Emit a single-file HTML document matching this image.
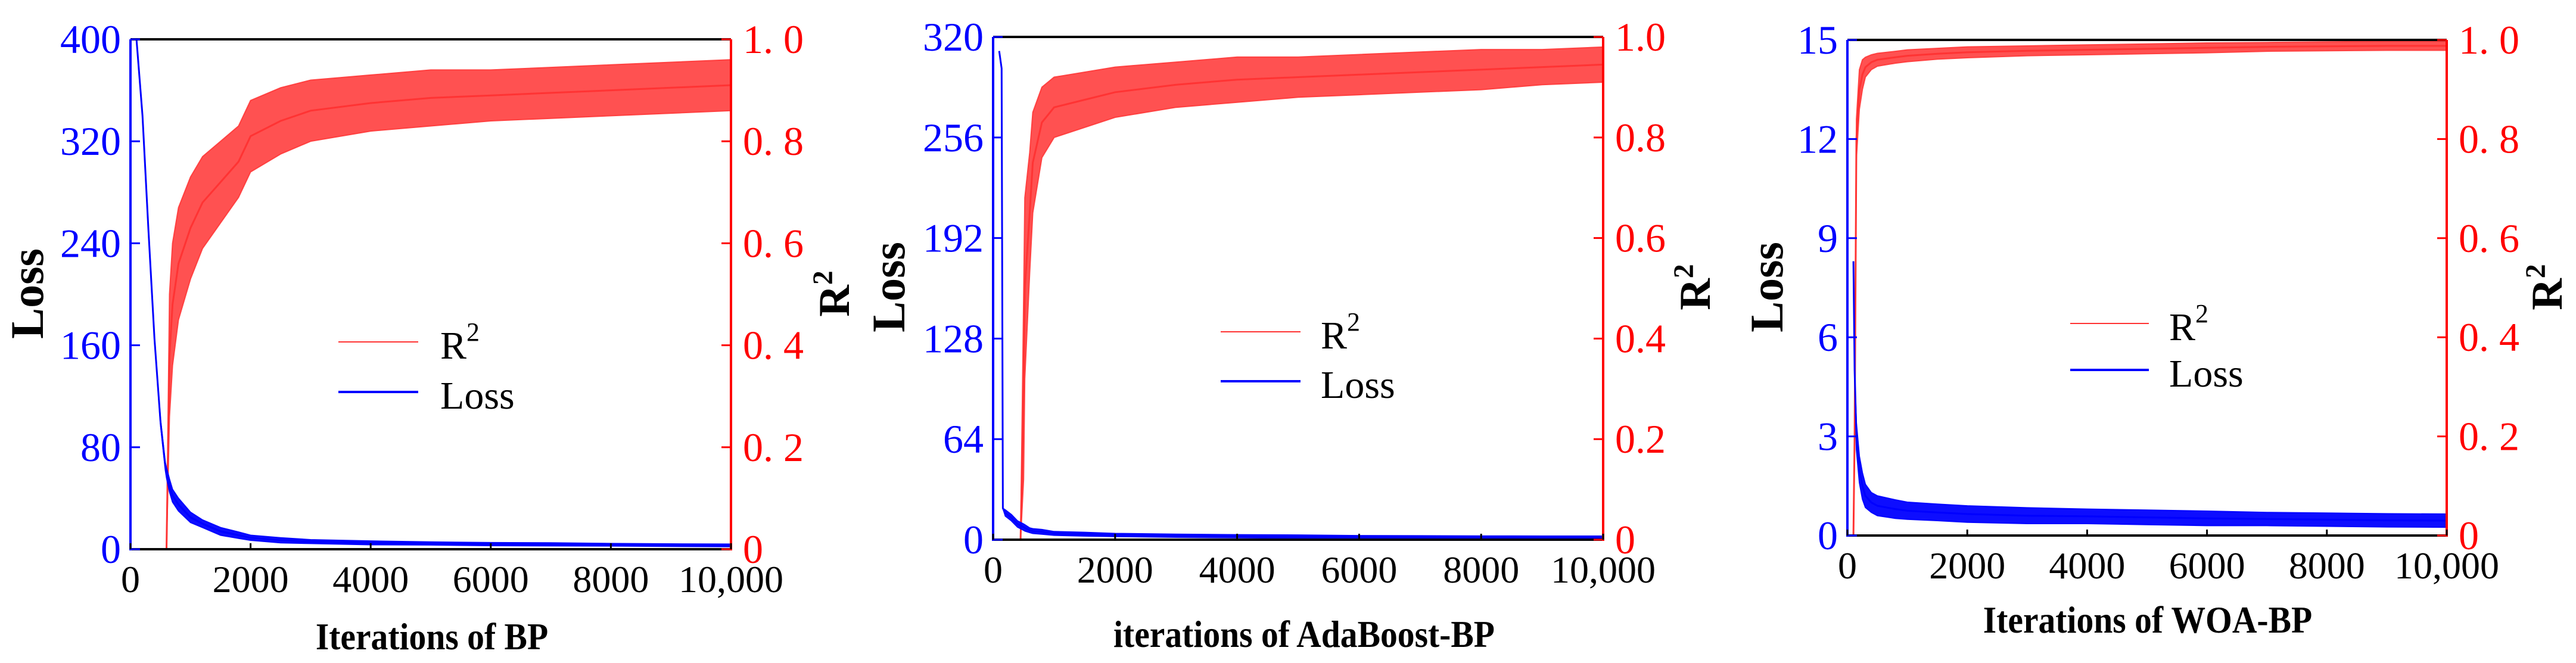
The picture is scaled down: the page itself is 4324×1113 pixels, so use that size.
<!DOCTYPE html>
<html><head><meta charset="utf-8"><style>
html,body{margin:0;padding:0;background:#fff;}
svg{display:block;font-family:"Liberation Serif",serif;}
</style></head><body>
<svg id="chart" width="4324" height="1113" viewBox="0 0 4324 1113" xmlns="http://www.w3.org/2000/svg" font-family="Liberation Serif, serif"></svg>
<script>
// ---- Panel 1: BP ----
const bpIter = [0,100,200,300,400,500,580,600,650,700,800,1000,1200,1500,1800,2000,2500,3000,4000,5000,6000,7000,8000,9000,10000];
const bpLoss = [400,400,340,250,165,100,65,60,50,42,35,25,20,14,11,9,7,6,5,4.5,4,3.8,3.5,3.2,3];
const bpLossSpread = [0,0,0,0,0,2,3,4,5,5,5,4,3,3,2.5,2,2,1.5,1.5,1.2,1.2,1.2,1,1,1];
const bpR2 = [0,0,0,0,0,0,0,0,0.38,0.48,0.56,0.63,0.68,0.72,0.76,0.81,0.84,0.86,0.875,0.885,0.89,0.895,0.9,0.905,0.91];
const bpR2Spread = [0,0,0,0,0,0,0,0,0.12,0.12,0.11,0.1,0.09,0.08,0.07,0.07,0.065,0.06,0.055,0.055,0.05,0.05,0.05,0.05,0.05];
// ---- Panel 2: AdaBoost-BP ----
const adaIter = [0,80,100,140,160,200,300,400,450,500,520,600,650,800,1000,1500,2000,3000,4000,5000,6000,7000,8000,9000,10000];
const adaLoss = [0,0,311,300,20,17,14,10,9,8,7.5,6,5.5,5,4,3.5,3,2.5,2.2,2,1.8,1.7,1.6,1.5,1.5];
const adaLossSpread = [0,0,0,0,0,2,2,2,2,2,2,1.5,1.5,1.5,1.2,1.2,1,1,1,1,0.8,0.8,0.8,0.8,0.8];
const adaR2 = [0,0,0,0,0,0,0,0,0,0.3,0.5,0.65,0.75,0.83,0.86,0.875,0.89,0.905,0.915,0.92,0.925,0.93,0.935,0.94,0.945];
const adaR2Spread = [0,0,0,0,0,0,0,0,0,0.18,0.18,0.12,0.1,0.07,0.06,0.055,0.05,0.045,0.045,0.04,0.04,0.04,0.04,0.035,0.035];
// ---- Panel 3: WOA-BP ----
const woaIter = [0,50,100,120,150,200,250,300,400,500,800,1000,1500,2000,3000,4000,5000,6000,7000,8000,9000,10000];
const woaLoss = [0,0,8.3,5,3,2,1.5,1.2,1.0,0.9,0.8,0.75,0.7,0.65,0.6,0.58,0.55,0.52,0.5,0.48,0.46,0.45];
const woaLossSpread = [0,0,0,0,0.4,0.4,0.4,0.35,0.3,0.3,0.28,0.26,0.25,0.25,0.24,0.22,0.22,0.22,0.2,0.2,0.2,0.2];
const woaR2 = [0,0,0,0.2,0.8,0.9,0.93,0.945,0.955,0.96,0.965,0.968,0.972,0.975,0.978,0.98,0.982,0.984,0.986,0.987,0.988,0.988];
const woaR2Spread = [0,0,0,0,0.04,0.04,0.03,0.02,0.015,0.013,0.012,0.012,0.011,0.011,0.01,0.01,0.01,0.01,0.009,0.009,0.009,0.009];
const xTicks = [0,2000,4000,6000,8000,10000];
const xTickLabels = ["0","2000","4000","6000","8000","10,000"];
const r2Ticks = [0,0.2,0.4,0.6,0.8,1.0];

const NS = "http://www.w3.org/2000/svg";
const svg = document.getElementById('chart');
function mk(tag, attrs, parent, text){
  const e = document.createElementNS(NS, tag);
  for (const k in attrs) e.setAttribute(k, attrs[k]);
  if (text !== undefined) e.textContent = text;
  (parent||svg).appendChild(e);
  return e;
}

function drawPanel(p){
  const g = mk('g', {});
  
  
  const xs = v => p.L + (v/10000)*(p.R-p.L);
  const yl = v => p.B - (v/p.lossMax)*(p.B-p.T);
  const yr = v => p.B - v*(p.B-p.T);

  function band(iter, mean, spread, yf, color, op, name){
    let up = [], lo = [];
    for (let i=0;i<iter.length;i++){
      up.push(xs(iter[i]).toFixed(1)+','+yf(mean[i]+spread[i]).toFixed(1));
      lo.unshift(xs(iter[i]).toFixed(1)+','+yf(Math.max(0,mean[i]-spread[i])).toFixed(1));
    }
    const b = mk('polygon', {points: up.concat(lo).join(' '), fill: color, 'fill-opacity': op, stroke: color, 'stroke-width': 2, 'stroke-opacity': op}, g);
    
    
    const pts = iter.map((v,i)=>xs(v).toFixed(1)+','+yf(mean[i]).toFixed(1)).join(' ');
    const l = mk('polyline', {points: pts, fill:'none', stroke: color, 'stroke-width': 3}, g);
    
    
  }
  band(p.iter, p.r2, p.r2s, yr, '#ff3333', 0.85, 'r2-series');
  let start = 0; while (start < p.iter.length && p.lossArr[start] === 0) start++;
  band(p.iter.slice(start), p.lossArr.slice(start), p.lossS.slice(start), yl, '#0000ff', 0.95, 'loss-series');

  const top = mk('line', {x1:p.L, y1:p.T, x2:p.R, y2:p.T, stroke:'#000', 'stroke-width':4}, g);
   
  const bot = mk('line', {x1:p.L, y1:p.B, x2:p.R, y2:p.B, stroke:'#000', 'stroke-width':4}, g);
   
  const la = mk('line', {x1:p.L, y1:p.T, x2:p.L, y2:p.B+2, stroke:'#0000ff', 'stroke-width':4}, g);
   
  const ra = mk('line', {x1:p.R, y1:p.T, x2:p.R, y2:p.B+2, stroke:'#ff0000', 'stroke-width':4}, g);
   

  p.lossTicks.forEach(v=>{
    const y = yl(v);
    mk('line',{x1:p.L, y1:y, x2:p.L+16, y2:y, stroke:'#0000ff','stroke-width':3}, g);
    const t = mk('text',{x:p.L-16, y:y+23, 'text-anchor':'end', 'font-size':68, fill:'#0000ff'}, g, String(v));
     
  });
  r2Ticks.forEach(v=>{
    const y = yr(v);
    mk('line',{x1:p.R-16, y1:y, x2:p.R, y2:y, stroke:'#ff0000','stroke-width':3}, g);
    let s = v===0 ? '0' : v.toFixed(1);
    if (p.spaced && v!==0) s = s.replace('.', '. ');
    const t = mk('text',{x:p.R+20, y:y+23, 'font-size':68, fill:'#ff0000'}, g, s);
     
  });
  xTicks.forEach((v,i)=>{
    const x = xs(v);
    mk('line',{x1:x, y1:p.B, x2:x, y2:p.B-10, stroke:'#000','stroke-width':3}, g);
    const t = mk('text',{x:x, y:p.B+72, 'text-anchor':'middle', 'font-size':64, fill:'#000'}, g, xTickLabels[i]);
     
  });
  const xt = mk('text',{x:p.titleX, y:p.titleY, 'text-anchor':'middle', 'font-size':64, 'font-weight':'bold', fill:'#000', transform:`translate(${p.titleX} ${p.titleY}) scale(0.9 1) translate(${-p.titleX} ${-p.titleY})`}, g, p.title);
   
  const lt = mk('text',{x:0, y:0, 'text-anchor':'middle', 'font-size':78, 'font-weight':'bold', fill:'#000', transform:`translate(${p.lossLabelX} ${p.lossLabelY}) rotate(-90)`}, g, 'Loss');
   
  const rt = mk('text',{x:0, y:0, 'text-anchor':'middle', 'font-size':74, 'font-weight':'bold', fill:'#000', transform:`translate(${p.r2LabelX} ${p.r2LabelY}) rotate(-90)`}, g);
   
  mk('tspan',{}, rt, 'R');
  mk('tspan',{dy:-28,'font-size':48}, rt, '2');
  const lg = mk('g',{}, g);
   
  mk('line',{x1:p.legX1, y1:p.legY1, x2:p.legX2, y2:p.legY1, stroke:'#ff3333','stroke-width':2}, lg);
  const r = mk('text',{x:p.legTX, y:p.legY1+28, 'font-size':66, fill:'#000'}, lg);
   
  mk('tspan',{}, r, 'R'); mk('tspan',{dy:-30,'font-size':44}, r, '2');
  mk('line',{x1:p.legX1, y1:p.legY2, x2:p.legX2, y2:p.legY2, stroke:'#0000ff','stroke-width':4}, lg);
  const lo = mk('text',{x:p.legTX, y:p.legY2+28, 'font-size':66, fill:'#000'}, lg, 'Loss');
   
}

drawPanel({name:'panel-bp', L:219, R:1227, T:66, B:922, lossMax:400, lossTicks:[0,80,160,240,320,400],
  iter:bpIter, lossArr:bpLoss, lossS:bpLossSpread, r2:bpR2, r2s:bpR2Spread, spaced:true,
  title:'Iterations of BP', titleX:725, titleY:1090, lossLabelX:72, lossLabelY:493, r2LabelX:1425, r2LabelY:493,
  legX1:568, legX2:702, legY1:574, legY2:658, legTX:739});
drawPanel({name:'panel-adaboost-bp', L:1667, R:2691, T:62, B:906, lossMax:320, lossTicks:[0,64,128,192,256,320],
  iter:adaIter, lossArr:adaLoss, lossS:adaLossSpread, r2:adaR2, r2s:adaR2Spread, spaced:false,
  title:'iterations of AdaBoost-BP', titleX:2189, titleY:1086, lossLabelX:1518, lossLabelY:482, r2LabelX:2870, r2LabelY:482,
  legX1:2049, legX2:2183, legY1:557, legY2:640, legTX:2217});
drawPanel({name:'panel-woa-bp', L:3101, R:4107, T:67, B:899, lossMax:15, lossTicks:[0,3,6,9,12,15],
  iter:woaIter, lossArr:woaLoss, lossS:woaLossSpread, r2:woaR2, r2s:woaR2Spread, spaced:true,
  title:'Iterations of WOA-BP', titleX:3605, titleY:1062, lossLabelX:2992, lossLabelY:482, r2LabelX:4300, r2LabelY:482,
  legX1:3475, legX2:3607, legY1:543, legY2:621, legTX:3641});
</script>
</body></html>
